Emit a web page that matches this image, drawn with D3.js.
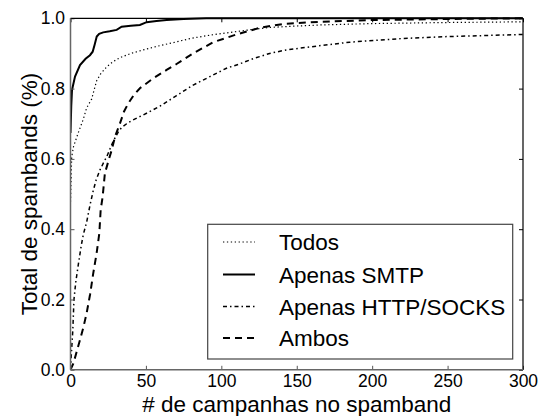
<!DOCTYPE html>
<html><head><meta charset="utf-8">
<script src="https://cdn.jsdelivr.net/npm/d3@7"></script>
<style>body{margin:0;background:#fff}svg{display:block;font-family:"Liberation Sans",Arial,sans-serif}</style>
</head><body><svg id="c" width="543" height="416"></svg>
<script>
const xTicks = [0, 50, 100, 150, 200, 250, 300];
const yTicks = [0.0, 0.2, 0.4, 0.6, 0.8, 1.0];
const seriesNames = ["Todos", "Apenas SMTP", "Apenas HTTP/SOCKS", "Ambos"];

const todosX = [0,0.8,2,3.6,5.2,8.5,10.7,14,17.3,20,24,28,32.8,40,48.2,58,70.3,80,92.4,107.8,120,132,150,165,200,250,300];
const todosY = [0.478,0.606,0.635,0.655,0.675,0.713,0.745,0.77,0.822,0.842,0.862,0.876,0.888,0.9,0.91,0.921,0.933,0.943,0.952,0.961,0.968,0.974,0.978,0.981,0.985,0.988,0.99];

const smtpX = [0,0.5,1,3,6.3,10,12.9,14.7,16,17.4,19,21.7,26,30.6,33.9,40,46,50.5,57,63.7,75,90,120,300];
const smtpY = [0.674,0.75,0.796,0.834,0.867,0.885,0.895,0.905,0.925,0.948,0.956,0.96,0.963,0.967,0.976,0.979,0.981,0.989,0.992,0.995,0.998,1.0,1.0,1.0];

const httpX = [0,0.5,1.5,2.3,3.5,5.2,7,8.5,10.7,13,15.1,17,19.5,22,24,28.3,31.7,34,37.2,41,48.2,59.3,70.3,81.3,92.4,103.4,112,121,132,143,165,185,218,250,300];
const httpY = [0,0.04,0.11,0.2,0.25,0.3,0.35,0.385,0.42,0.47,0.51,0.54,0.568,0.59,0.606,0.65,0.677,0.69,0.7,0.71,0.725,0.75,0.78,0.81,0.834,0.858,0.87,0.885,0.9,0.91,0.922,0.932,0.942,0.948,0.954];

const ambosX = [0,1.9,4,6.3,8.5,10.7,13,15.1,17.3,19.1,20,21.3,22.8,25,27.3,29.5,32.8,35.5,38.3,42,46,54.8,63.7,70.3,81.3,94.6,110,125.5,141,165,200,250,300];
const ambosY = [0,0.018,0.05,0.085,0.12,0.161,0.215,0.275,0.331,0.388,0.455,0.492,0.559,0.592,0.625,0.663,0.701,0.735,0.758,0.782,0.801,0.829,0.853,0.87,0.9,0.932,0.954,0.973,0.984,0.99,0.995,0.998,1.0];

const L = 70.5, R = 523, T = 18.3, B = 369.8;
const svg = d3.select("#c");
const x = d3.scaleLinear().domain([0, 300]).range([L, R]);
const y = d3.scaleLinear().domain([0, 1]).range([B, T]);

const styles = [
  {dash: "1.3,2.6", w: 1.2},
  {dash: null, w: 2},
  {dash: "4,3,1.5,3", w: 1.5},
  {dash: "7,5", w: 2}
];
const data = [
  todosX.map((v,i)=>[v, todosY[i]]),
  smtpX.map((v,i)=>[v, smtpY[i]]),
  httpX.map((v,i)=>[v, httpY[i]]),
  ambosX.map((v,i)=>[v, ambosY[i]])
];

svg.append("clipPath").attr("id","pc").append("rect")
  .attr("x", L).attr("y", T - 2).attr("width", R - L).attr("height", B - T + 2);

const line = d3.line().x(d => x(d[0])).y(d => y(d[1]));
const g = svg.append("g").attr("clip-path", "url(#pc)");
data.forEach((d, i) => {
  g.append("path").attr("d", line(d)).attr("fill", "none")
    .attr("stroke", "#000").attr("stroke-width", styles[i].w)
    .attr("stroke-dasharray", styles[i].dash);
});

function styleAxis(sel, col) {
  sel.select(".domain").remove();
  sel.selectAll(".tick line").attr("stroke", col);
  sel.selectAll(".tick text").attr("font-size", 17.5).attr("fill", "#000")
    .attr("font-family", '"Liberation Sans",Arial,sans-serif');
}

const ax = svg.append("g").attr("transform", `translate(0,${B})`)
  .call(d3.axisBottom(x).tickValues(xTicks).tickSize(-4).tickPadding(4.5).tickFormat(d3.format("d")));
styleAxis(ax, "#555");
ax.selectAll(".tick text").attr("dy", "0.71em");

const axT = svg.append("g").attr("transform", `translate(0,${T})`)
  .call(d3.axisTop(x).tickValues(xTicks).tickSize(-4).tickFormat(""));
styleAxis(axT, "#000");

const ay = svg.append("g").attr("transform", `translate(${L},0)`)
  .call(d3.axisLeft(y).tickValues(yTicks).tickSize(-4).tickPadding(5.5).tickFormat(d3.format(".1f")));
styleAxis(ay, "#555");

const ayR = svg.append("g").attr("transform", `translate(${R},0)`)
  .call(d3.axisRight(y).tickValues(yTicks).tickSize(-4).tickFormat(""));
styleAxis(ayR, "#000");

// spines
svg.append("line").attr("x1", L).attr("x2", R).attr("y1", T).attr("y2", T).attr("stroke", "#000").attr("stroke-width", 1.2);
svg.append("line").attr("x1", R).attr("x2", R).attr("y1", T).attr("y2", B).attr("stroke", "#000").attr("stroke-width", 1.2);
svg.append("line").attr("x1", L).attr("x2", L).attr("y1", T).attr("y2", B).attr("stroke", "#666").attr("stroke-width", 1.5);
svg.append("line").attr("x1", L).attr("x2", R).attr("y1", B).attr("y2", B).attr("stroke", "#666").attr("stroke-width", 1.5);

// axis labels
svg.append("text").attr("x", (L + R) / 2).attr("y", 412).attr("text-anchor", "middle")
  .attr("font-size", 22.5).text("# de campanhas no spamband");
svg.append("text").attr("transform", `translate(37,${(T + B) / 2}) rotate(-90)`).attr("text-anchor", "middle")
  .attr("font-size", 22.5).text("Total de spambands (%)");

// legend
const lg = svg.append("g");
lg.append("rect").attr("x", 207.7).attr("y", 224.3).attr("width", 305).attr("height", 134.7)
  .attr("fill", "#fff").attr("stroke", "#444").attr("stroke-width", 1.2);
const rows = [242, 274.5, 306.5, 338];
seriesNames.forEach((n, i) => {
  lg.append("line").attr("x1", 223).attr("x2", 255).attr("y1", rows[i]).attr("y2", rows[i])
    .attr("stroke", "#000").attr("stroke-width", styles[i].w).attr("stroke-dasharray", styles[i].dash);
  lg.append("text").attr("x", 279).attr("y", rows[i]).attr("dy", "0.36em").attr("font-size", 22.5).text(n);
});
</script></body></html>
